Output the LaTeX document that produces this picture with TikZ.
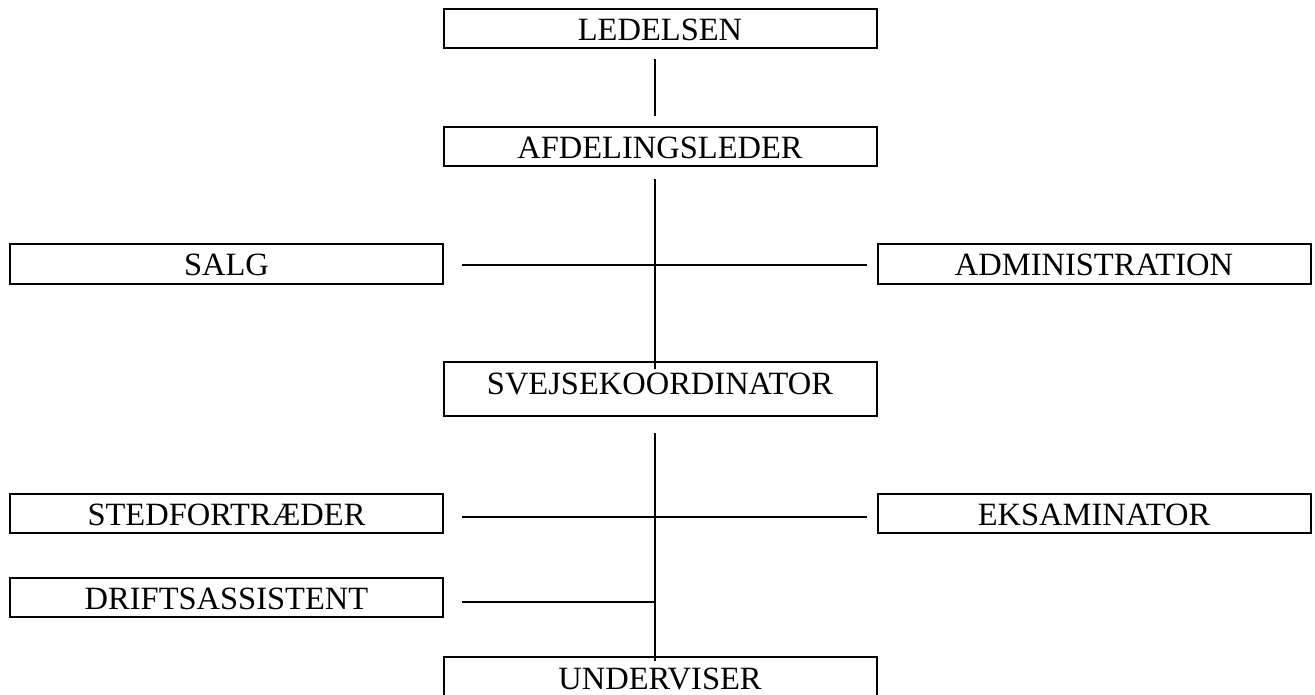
\documentclass[tikz,border=0pt]{standalone}
\usepackage{fontspec}
\setmainfont{Liberation Serif}
\begin{document}
\begin{tikzpicture}[x=1pt,y=-1pt,
  unit/.style={draw=black, line width=2pt, rectangle, inner xsep=0pt, inner ysep=0pt,
    minimum width=433pt, minimum height=39pt, text height=24pt, text depth=0pt,
    font=\fontsize{32.5}{39}\selectfont},
  tallunit/.style={unit, minimum height=54pt, text depth=14pt},
  link/.style={draw=black, line width=1.4pt}]
\useasboundingbox (0,0) rectangle (1315,695);
% organisation units
\node[unit] (led) at (660,28.5) {LEDELSEN};
\node[unit] (afd) at (660,146.5) {AFDELINGSLEDER};
\node[unit] (salg) at (226.5,264) {SALG};
\node[unit] (adm) at (1094,264) {ADMINISTRATION};
\node[tallunit] (svej) at (660,389) {SVEJSEKOORDINATOR};
\node[unit] (sted) at (226.5,513.5) {STEDFORTRÆDER};
\node[unit] (eks) at (1094,513.5) {EKSAMINATOR};
\node[unit] (drift) at (226.5,597.5) {DRIFTSASSISTENT};
\node[tallunit] (und) at (660,684) {UNDERVISER};
% vertical spine of the hierarchy
\coordinate (spine) at (655,0);
\draw[link, shorten <=10pt, shorten >=10pt] (led.south -| spine) -- (afd.north -| spine);
\draw[link, shorten <=12pt, shorten >=-8pt] (afd.south -| spine) -- (svej.north -| spine);
\draw[link, shorten <=16pt, shorten >=-5pt] (svej.south -| spine) -- (und.north -| spine);
% staff functions branching off the spine
\draw[link, shorten <=18pt, shorten >=10pt] ([yshift=-1pt]salg.east) -- ([yshift=-1pt]adm.west);
\draw[link, shorten <=18pt, shorten >=10pt] ([yshift=-3.5pt]sted.east) -- ([yshift=-3.5pt]eks.west);
\coordinate (driftjoin) at ([yshift=-4.5pt]drift.east -| spine);
\draw[link, shorten <=18pt] ([yshift=-4.5pt]drift.east) -- (driftjoin);
\end{tikzpicture}
\end{document}
